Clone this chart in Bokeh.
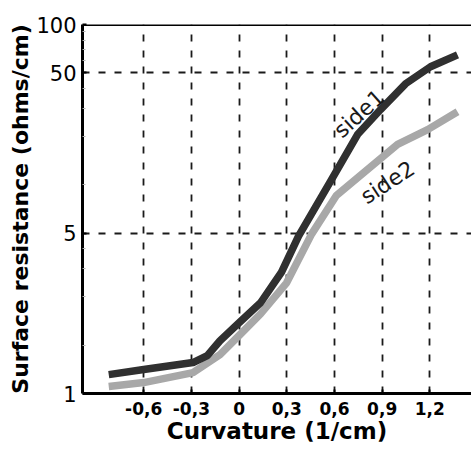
from bokeh.plotting import figure
from bokeh.models import FixedTicker, Range1d, Span
from bokeh.core.properties import value
from bokeh.embed import file_html
from bokeh.resources import INLINE

# Curvature (1/cm) and surface resistance (ohms/cm) for each side
curv_side1 = [-0.82, -0.60, -0.29, -0.20, -0.12, 0.0, 0.135, 0.267, 0.374, 0.575, 0.745, 0.89, 1.047, 1.204, 1.374]
res_side1 = [0.656, 0.705, 0.78, 0.861, 1.067, 1.38, 1.84, 2.86, 4.79, 10.5, 20.6, 29.5, 42.7, 54.5, 64.7]

curv_side2 = [-0.82, -0.60, -0.29, -0.12, 0.0, 0.135, 0.299, 0.456, 0.613, 0.997, 1.186, 1.374]
res_side2 = [0.553, 0.585, 0.675, 0.873, 1.15, 1.57, 2.45, 4.93, 8.61, 17.9, 22.1, 28.6]

x_ticks = [-0.6, -0.3, 0.0, 0.3, 0.6, 0.9, 1.2]
x_tick_labels = ["-0,6", "-0,3", "0", "0,3", "0,6", "0,9", "1,2"]
y_ticks = [0.5, 5, 50, 100]
y_tick_labels = ["1", "5", "50", "100"]
y_minor = [1, 2, 3, 4, 10, 20, 30, 40, 60, 70, 80, 90]
y_grid = [5, 50]

series_names = ["side1", "side2"]
label_x = [0.755, 0.934]
label_y = [27.8, 10.37]
label_angle = [42, 33]

p = figure(width=471, height=449,
           x_range=Range1d(-0.985, 1.462), y_range=Range1d(0.5, 100),
           y_axis_type="log", output_backend="svg", toolbar_location=None,
           min_border_left=82, min_border_right=0, min_border_top=24,
           min_border_bottom=56)
p.outline_line_color = None
p.background_fill_color = "white"
p.border_fill_color = "white"

# axes
p.xaxis.ticker = FixedTicker(ticks=x_ticks, minor_ticks=[])
p.xaxis.major_label_overrides = dict(zip(x_ticks, x_tick_labels))
p.yaxis.ticker = FixedTicker(ticks=y_ticks, minor_ticks=y_minor)
p.yaxis.major_label_overrides = dict(zip(y_ticks, y_tick_labels))

for ax in (p.xaxis[0], p.yaxis[0]):
    ax.axis_line_width = 3
    ax.axis_line_color = "black"
    ax.major_tick_in = 4
    ax.major_tick_out = 0
    ax.major_tick_line_width = 2
    ax.major_tick_line_color = "black"
    ax.axis_label_text_font = "DejaVu Sans"
    ax.axis_label_text_font_style = "bold"
    ax.axis_label_text_font_size = "22px"
    ax.axis_label_text_color = "black"

p.xaxis.minor_tick_line_color = None
p.yaxis.minor_tick_in = 3
p.yaxis.minor_tick_out = 0
p.yaxis.minor_tick_line_color = "#b0b0b0"

p.xaxis.major_label_text_font = "DejaVu Sans"
p.xaxis.major_label_text_font_style = "bold"
p.xaxis.major_label_text_font_size = "17px"
p.xaxis.major_label_text_color = "black"
p.xaxis.major_label_standoff = 8
p.xaxis.axis_label = "Curvature (1/cm)"
p.xaxis.axis_label_text_font_size = "23px"
p.xaxis.axis_label_standoff = 0

p.yaxis.major_label_text_font = "DejaVu Sans"
p.yaxis.major_label_text_font_style = "normal"
p.yaxis.major_label_text_font_size = "21px"
p.yaxis.major_label_text_color = "black"
p.yaxis.major_label_standoff = 6
p.yaxis.axis_label = "Surface resistance (ohms/cm)"
p.yaxis.axis_label_standoff = 0

# dashed grid
p.xgrid.ticker = FixedTicker(ticks=x_ticks)
p.ygrid.ticker = FixedTicker(ticks=y_grid)
for g in (p.xgrid[0], p.ygrid[0]):
    g.grid_line_color = "#1a1a1a"
    g.grid_line_width = 1.8
    g.grid_line_dash = "7 9"

# top frame line
p.add_layout(Span(location=100, dimension="width", line_color="black", line_width=3))

p.line(curv_side2, res_side2, line_color="#a8a8a8", line_width=7.5, line_join="round")
p.line(curv_side1, res_side1, line_color="#303030", line_width=7.5, line_join="round")

p.text(x=label_x, y=label_y, text=series_names, angle=label_angle, angle_units="deg",
       text_align="center", text_baseline="middle",
       text_font=value("DejaVu Sans"), text_font_size=value("22px"), text_color="#1a1a1a")

open("out.html", "w").write(file_html(p, INLINE))
